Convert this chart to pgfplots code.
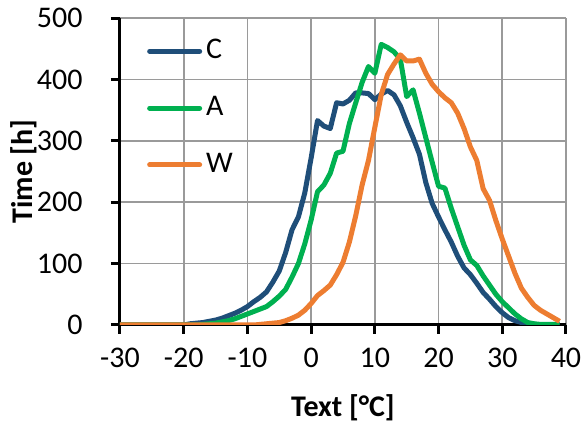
\documentclass[border=0pt]{standalone}
\usepackage{fontspec}
\setmainfont{Carlito}
\usepackage{pgfplots}
\pgfplotsset{compat=1.18}
\definecolor{cC}{HTML}{1F4E79}
\definecolor{cA}{HTML}{00B050}
\definecolor{cW}{HTML}{ED7D31}
\definecolor{gridgray}{HTML}{9A9A9A}
\begin{document}
\fontsize{15}{18}\selectfont
\begin{tikzpicture}
\useasboundingbox (-60pt,-51.5pt) rectangle (232pt,162.5pt);
\begin{axis}[
  at={(0,0)}, anchor=south west,
  scale only axis, width=223pt, height=153.5pt,
  xmin=-30, xmax=40, ymin=0, ymax=500,
  xtick={-30,-20,...,40}, ytick={0,100,...,500},
  /pgf/number format/assume math mode=true,
  ticklabel style={font=\fontsize{15}{18}\selectfont},
  axis lines=left,
  axis line style={-, line width=1.5pt, black},
  tick align=outside, major tick length=4.5pt,
  tick style={line width=1.5pt, black},
  grid=major, major grid style={gridgray, line width=0.8pt},
  xlabel={\textbf{Text [°C]}}, ylabel={\textbf{Time [h]}},
  label style={font=\fontsize{15}{18}\selectfont},
  xlabel style={at={(axis description cs:0.5,-0.27)}, anchor=center},
  ylabel style={at={(axis description cs:-0.215,0.5)}, anchor=center, rotate=0},
  xticklabel style={yshift=-2pt},
  yticklabel style={xshift=-9pt},
  legend style={at={(0.06,0.945)}, anchor=north west, draw=none, fill=none,
    font=\fontsize{15}{18}\selectfont, row sep=12.5pt, inner sep=0pt},
  legend cell align=left,
  legend image code/.code={\draw[#1, line width=2.5pt, line cap=round] (0pt,0pt) -- (25pt,0pt);},
  every axis plot/.append style={line width=2.5pt, line join=round, mark=none},
]
\addplot[cC] coordinates {
(-30,0)(-29,0)(-28,0)(-27,0)(-26,0)(-25,0)(-24,0)(-23,0)(-22,0)(-21,0)(-20,0)
(-19,2)(-18,3)(-17,4)(-16,6)(-15,8)(-14,11)(-13,15)(-12,19)(-11,24)(-10,30)
(-9,38)(-8,45)(-7,54)(-6,70)(-5,88)(-4,118)(-3,155)(-2,176)(-1,215)(0,272)
(1,333)(2,324)(3,320)(4,362)(5,360)(6,366)(7,378)(8,378)(9,377)(10,367)
(11,376)(12,382)(13,375)(14,357)(15,330)(16,305)(17,278)(18,232)(19,198)(20,176)
(21,155)(22,135)(23,112)(24,93)(25,82)(26,68)(27,53)(28,42)(29,30)(30,20)
(31,12)(32,7)(33,4)(34,2)(35,1)(36,0)(37,0)(38,0)(39,0)
};
\addlegendentry{C}
\addplot[cA] coordinates {
(-30,0)(-29,0)(-28,0)(-27,0)(-26,0)(-25,0)(-24,0)(-23,0)(-22,0)(-21,0)(-20,0)
(-19,0)(-18,0)(-17,1)(-16,2)(-15,3)(-14,5)(-13,7)(-12,10)(-11,14)(-10,18)
(-9,22)(-8,26)(-7,30)(-6,38)(-5,47)(-4,58)(-3,78)(-2,100)(-1,132)(0,171)
(1,217)(2,228)(3,247)(4,280)(5,283)(6,328)(7,362)(8,395)(9,421)(10,410)
(11,457)(12,452)(13,445)(14,433)(15,372)(16,383)(17,345)(18,305)(19,265)(20,226)
(21,223)(22,190)(23,160)(24,130)(25,106)(26,97)(27,80)(28,65)(29,50)(30,38)
(31,28)(32,18)(33,10)(34,4)(35,2)(36,1)(37,1)(38,1)(39,1)
};
\addlegendentry{A}
\addplot[cW] coordinates {
(-30,0)(-29,0)(-28,0)(-27,0)(-26,0)(-25,0)(-24,0)(-23,0)(-22,0)(-21,0)(-20,0)
(-19,0)(-18,0)(-17,0)(-16,0)(-15,0)(-14,0)(-13,0)(-12,0)(-11,0)(-10,0)
(-9,0)(-8,1)(-7,2)(-6,3)(-5,4)(-4,7)(-3,11)(-2,16)(-1,24)(0,35)
(1,48)(2,56)(3,65)(4,82)(5,102)(6,135)(7,178)(8,228)(9,268)(10,322)
(11,375)(12,408)(13,425)(14,440)(15,430)(16,430)(17,433)(18,410)(19,392)(20,380)
(21,370)(22,362)(23,345)(24,320)(25,290)(26,268)(27,222)(28,203)(29,170)(30,140)
(31,112)(32,84)(33,60)(34,45)(35,32)(36,24)(37,18)(38,12)(39,6)
};
\addlegendentry{W}
\end{axis}
\end{tikzpicture}
\end{document}
